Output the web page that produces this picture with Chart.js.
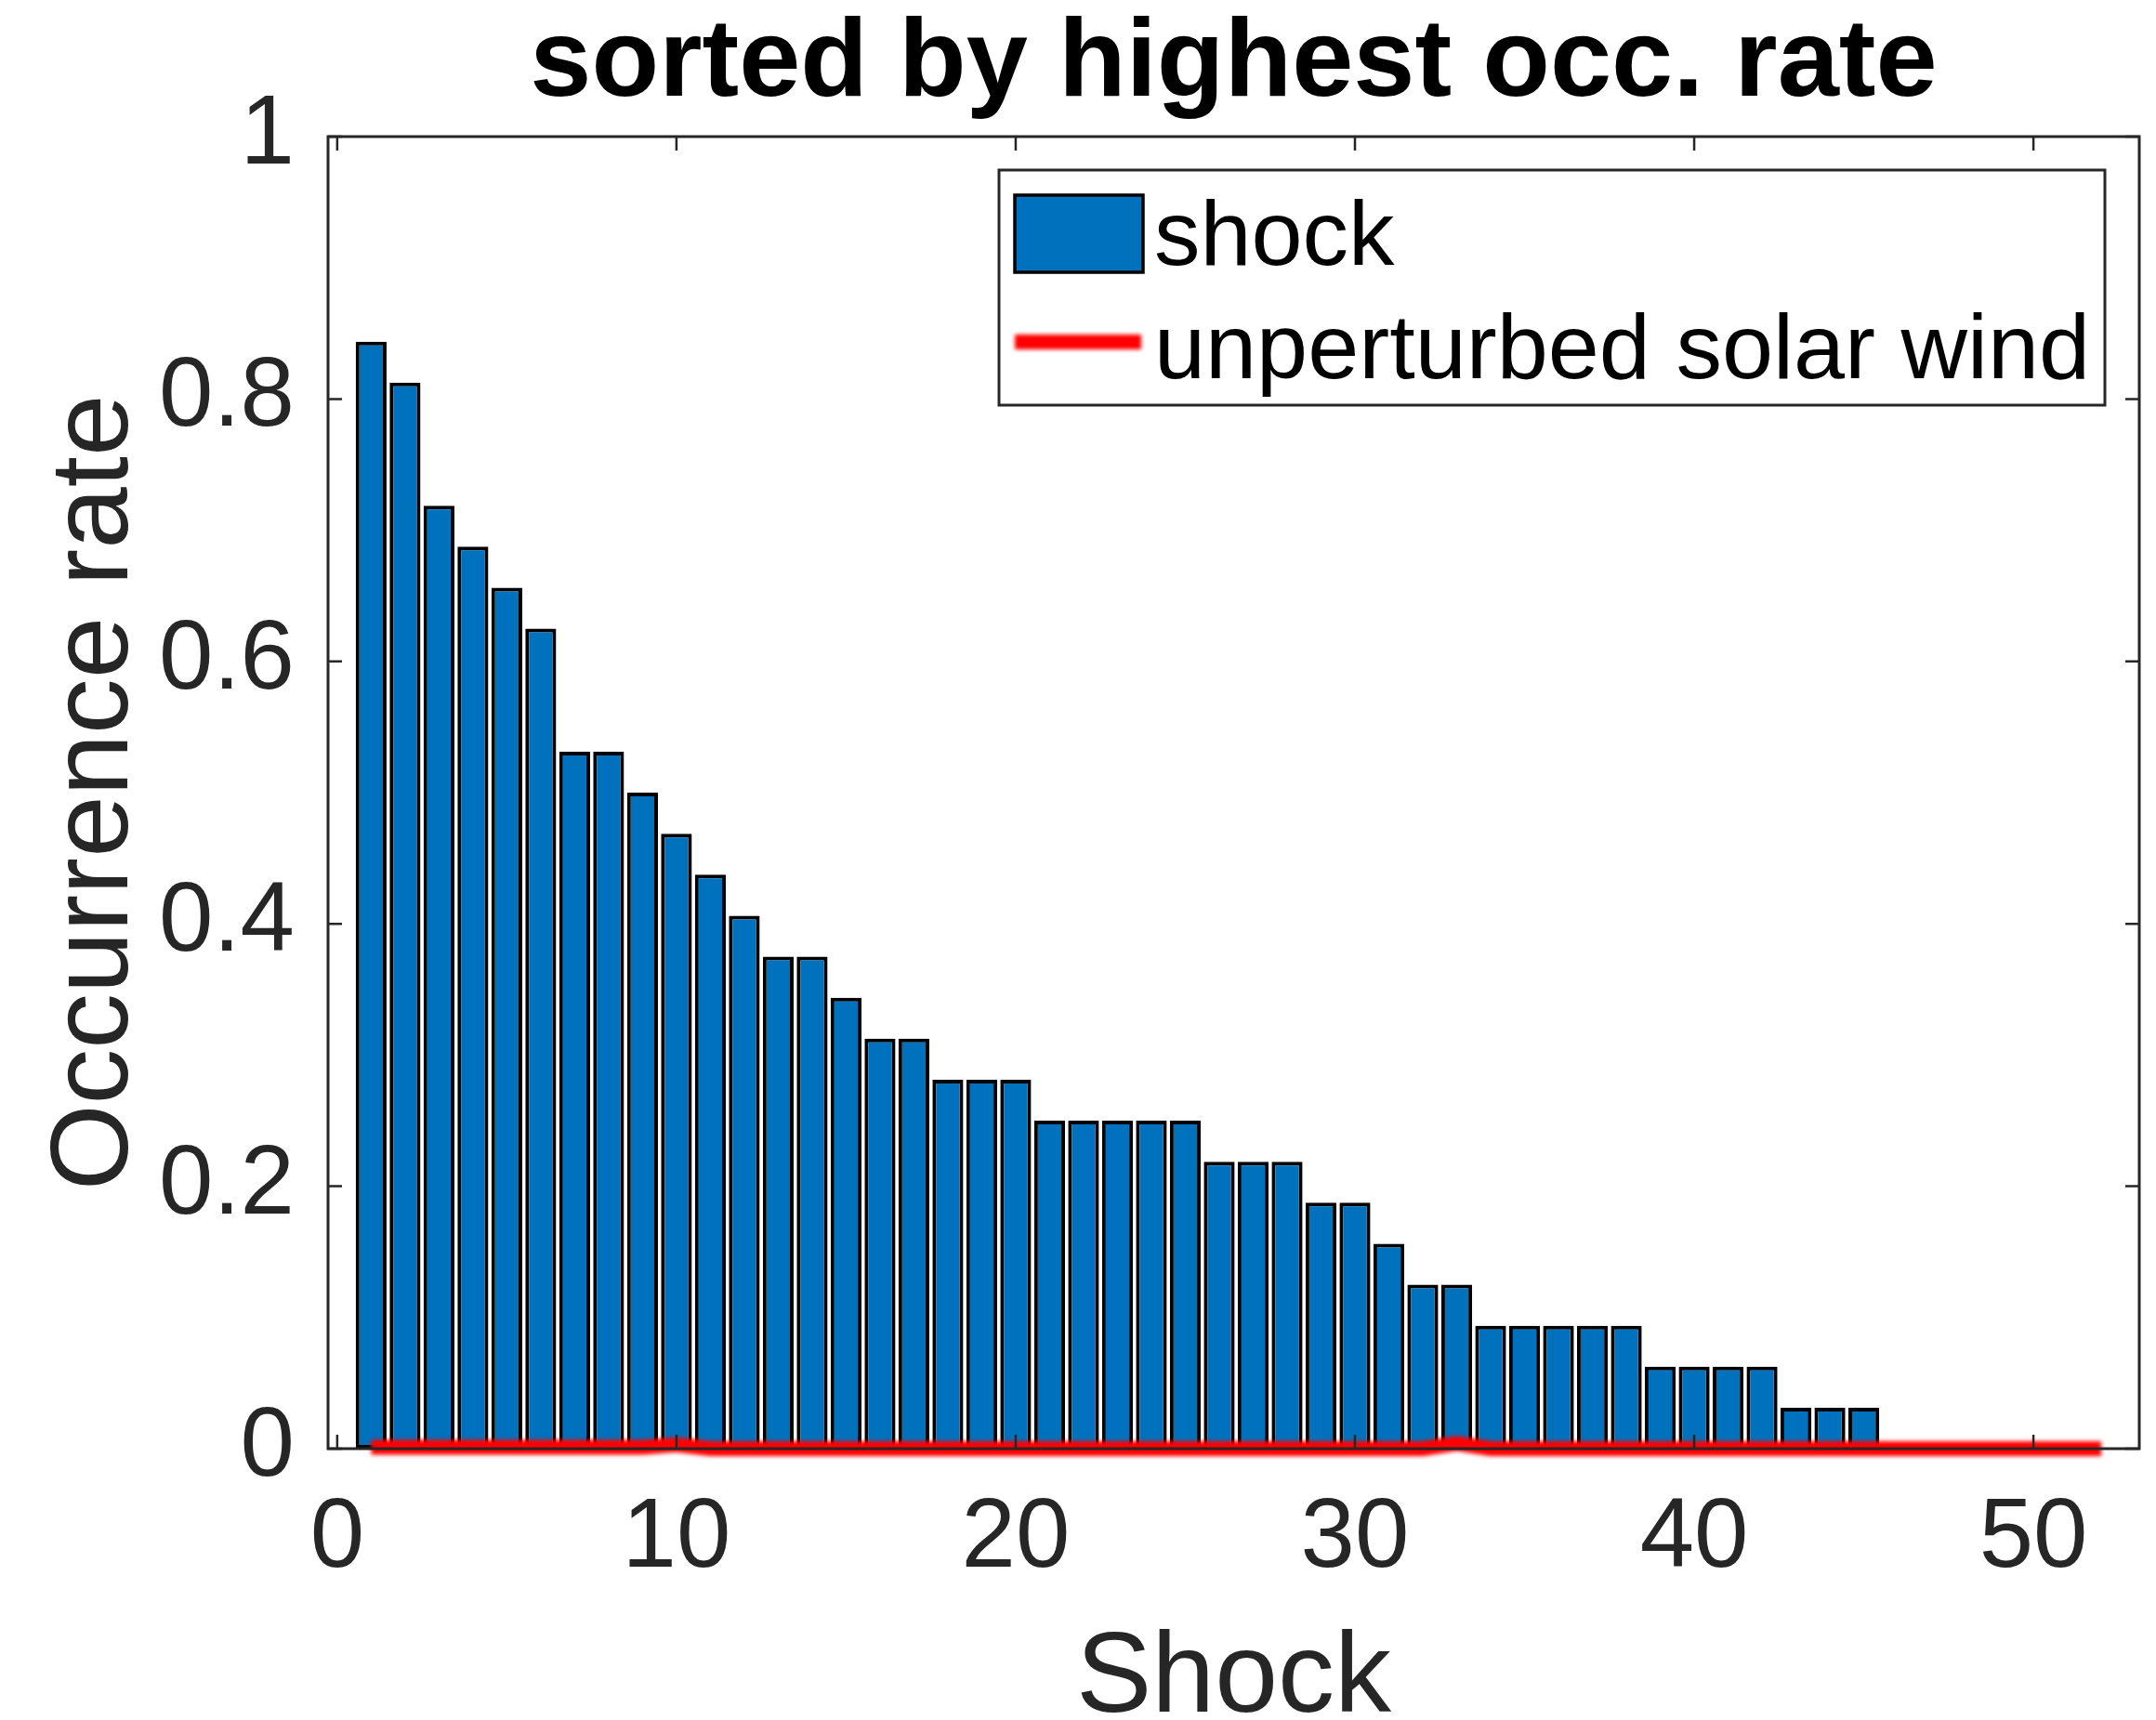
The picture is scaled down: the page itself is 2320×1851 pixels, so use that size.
<!DOCTYPE html>
<html>
<head>
<meta charset="utf-8">
<title>sorted by highest occ. rate</title>
<script src="https://cdn.jsdelivr.net/npm/chart.js@4.4.1/dist/chart.umd.min.js"></script>
<style>
  html, body { margin: 0; padding: 0; background: #fff; }
  canvas { display: block; }
</style>
</head>
<body>
<canvas id="chartOcc" width="2320" height="1851"></canvas>
<script>
// shock number, after sorting by occurrence rate
const shocks = [1, 2, 3, 4, 5, 6, 7, 8, 9, 10, 11, 12, 13, 14, 15, 16, 17, 18, 19, 20,
    21, 22, 23, 24, 25, 26, 27, 28, 29, 30, 31, 32, 33, 34, 35, 36, 37, 38, 39, 40,
    41, 42, 43, 44, 45, 46, 47, 48, 49, 50, 51, 52];

// occurrence rate during the shock
const shockRate = [0.84375, 0.8125, 0.71875, 0.6875, 0.65625, 0.625, 0.53125, 0.53125, 0.5, 0.46875,
    0.4375, 0.40625, 0.375, 0.375, 0.34375, 0.3125, 0.3125, 0.28125, 0.28125, 0.28125,
    0.25, 0.25, 0.25, 0.25, 0.25, 0.21875, 0.21875, 0.21875, 0.1875, 0.1875,
    0.15625, 0.125, 0.125, 0.09375, 0.09375, 0.09375, 0.09375, 0.09375, 0.0625, 0.0625,
    0.0625, 0.0625, 0.03125, 0.03125, 0.03125, 0, 0, 0, 0, 0, 0, 0];

// occurrence rate in the unperturbed solar wind
const swRate = [0.001, 0.001, 0.001, 0.001, 0.001, 0.001, 0.001, 0.001, 0.001, 0.003,
    0, 0, 0, 0, 0, 0, 0, 0, 0, 0,
    0, 0, 0, 0, 0, 0, 0, 0, 0, 0,
    0, 0, 0.004, 0, 0, 0, 0, 0, 0, 0,
    0, 0, 0, 0, 0, 0, 0, 0, 0, 0, 0, 0];

const xTicks = [0, 10, 20, 30, 40, 50];
const yTicks = [0, 0.2, 0.4, 0.6, 0.8, 1];

const FONT = '"Liberation Sans", Arial, Helvetica, sans-serif';
const AXIS_COLOR = '#262626';

// slightly soft red line
const softLine = {
    id: 'softLine',
    beforeDatasetDraw(chart, args) {
        if (args.meta.type !== 'line') return;
        chart.ctx.save();
        chart.ctx.filter = 'blur(2px)';
    },
    afterDatasetDraw(chart, args) {
        if (args.meta.type !== 'line') return;
        chart.ctx.restore();
    }
};

// closed axes box with inward ticks on all four sides
const boxAxes = {
    id: 'boxAxes',
    afterDatasetsDraw(chart) {
        const { ctx, chartArea: a, scales: { x, y } } = chart;
        const tl = 15;
        ctx.save();
        ctx.strokeStyle = AXIS_COLOR;
        ctx.lineWidth = 2.5;
        ctx.beginPath();
        xTicks.forEach(v => {
            const px = x.getPixelForValue(v);
            ctx.moveTo(px, a.bottom); ctx.lineTo(px, a.bottom - tl);
            ctx.moveTo(px, a.top); ctx.lineTo(px, a.top + tl);
        });
        yTicks.forEach(v => {
            const py = y.getPixelForValue(v);
            ctx.moveTo(a.left, py); ctx.lineTo(a.left + tl, py);
            ctx.moveTo(a.right, py); ctx.lineTo(a.right - tl, py);
        });
        ctx.stroke();
        ctx.lineWidth = 3;
        ctx.strokeRect(a.left, a.top, a.right - a.left, a.bottom - a.top);
        ctx.restore();
    }
};

// boxed legend in the upper right corner
const boxLegend = {
    id: 'boxLegend',
    afterDraw(chart) {
        const { ctx, chartArea: a } = chart;
        const [bars, line] = chart.data.datasets;
        const w = 1190, h = 253;
        const lx = a.right - 37 - w, ly = a.top + 36;
        ctx.save();
        ctx.fillStyle = '#fff';
        ctx.fillRect(lx, ly, w, h);
        ctx.strokeStyle = AXIS_COLOR;
        ctx.lineWidth = 3;
        ctx.strokeRect(lx, ly, w, h);

        ctx.fillStyle = bars.backgroundColor;
        ctx.fillRect(lx + 17, ly + 27, 138, 83);
        ctx.strokeStyle = bars.borderColor;
        ctx.lineWidth = 3.5;
        ctx.strokeRect(lx + 17, ly + 27, 138, 83);

        ctx.save();
        ctx.filter = 'blur(2px)';
        ctx.strokeStyle = line.borderColor;
        ctx.lineWidth = line.borderWidth;
        ctx.beginPath();
        ctx.moveTo(lx + 17, ly + 185);
        ctx.lineTo(lx + 153, ly + 185);
        ctx.stroke();
        ctx.restore();

        ctx.font = '99px ' + FONT;
        ctx.fillStyle = '#000';
        ctx.textBaseline = 'alphabetic';
        ctx.fillText(bars.label, lx + 167, ly + 102);
        ctx.fillText(line.label, lx + 167, ly + 224);
        ctx.restore();
    }
};

new Chart(document.getElementById('chartOcc'), {
    type: 'bar',
    data: {
        datasets: [
            {
                type: 'bar',
                label: 'shock',
                data: shocks.map((s, i) => ({ x: s, y: shockRate[i] })),
                backgroundColor: '#0072BD',
                borderColor: '#000000',
                borderWidth: 4,
                borderSkipped: false,
                barPercentage: 0.91,
                categoryPercentage: 1,
                order: 1
            },
            {
                type: 'line',
                label: 'unperturbed solar wind',
                data: shocks.map((s, i) => ({ x: s, y: swRate[i] })),
                borderColor: '#ff0000',
                borderWidth: 16,
                borderCapStyle: 'butt',
                pointRadius: 0,
                tension: 0,
                fill: false,
                clip: false,
                order: 0
            }
        ]
    },
    options: {
        responsive: false,
        animation: false,
        devicePixelRatio: 1,
        layout: { padding: { left: 0, right: 18, top: 0, bottom: 0 } },
        plugins: {
            legend: { display: false },
            tooltip: { enabled: false },
            title: {
                display: true,
                fullSize: false,
                text: 'sorted by highest occ. rate',
                color: '#000',
                font: { family: FONT, size: 119, weight: 'bold', lineHeight: 1 },
                padding: { top: 11, bottom: 17 }
            }
        },
        scales: {
            x: {
                type: 'linear',
                min: -0.27,
                max: 53.12,
                offset: false,
                afterBuildTicks: s => { s.ticks = xTicks.map(v => ({ value: v })); },
                afterFit: s => { s.height = 292; },
                grid: { display: false, drawTicks: false, offset: false },
                border: { display: false },
                ticks: {
                    color: AXIS_COLOR,
                    font: { family: FONT, size: 105 },
                    padding: 35,
                    maxRotation: 0,
                    autoSkip: false,
                    callback: v => String(v)
                },
                title: {
                    display: true,
                    text: 'Shock',
                    color: AXIS_COLOR,
                    font: { family: FONT, size: 122, lineHeight: 0.7 },
                    padding: { top: 0, bottom: 0 }
                }
            },
            y: {
                min: 0,
                max: 1,
                afterBuildTicks: s => { s.ticks = yTicks.map(v => ({ value: v })); },
                afterFit: s => { s.width = 353; },
                grid: { display: false, drawTicks: false },
                border: { display: false },
                ticks: {
                    color: AXIS_COLOR,
                    font: { family: FONT, size: 105 },
                    padding: 36,
                    autoSkip: false,
                    callback: v => String(v)
                },
                title: {
                    display: true,
                    text: 'Occurrence rate',
                    color: AXIS_COLOR,
                    font: { family: FONT, size: 119.5, lineHeight: 1 },
                    padding: { top: 44, bottom: 0 }
                }
            }
        }
    },
    plugins: [softLine, boxAxes, boxLegend]
});
</script>
</body>
</html>
